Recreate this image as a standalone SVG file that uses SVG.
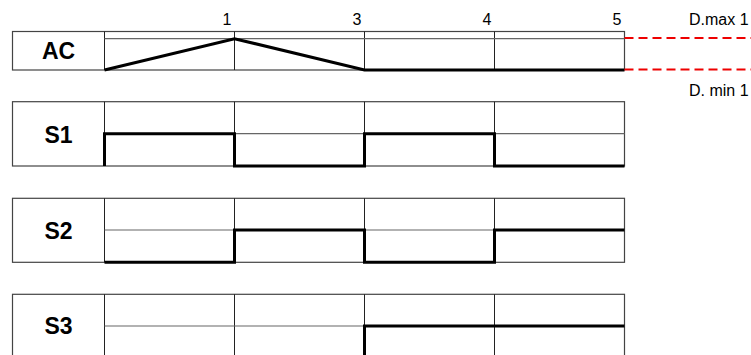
<svg xmlns="http://www.w3.org/2000/svg" width="751" height="355" viewBox="0 0 751 355">
<style>
.box{fill:#fff;stroke:#444;stroke-width:1.2}
.div{stroke:#222;stroke-width:1}
.mid{stroke:#666;stroke-width:1.2}
.wave{fill:none;stroke:#000;stroke-width:3;stroke-linejoin:miter}
.lbl{font-family:"Liberation Sans",Arial,sans-serif;font-weight:bold;font-size:23px;text-anchor:middle;fill:#000}
.num{font-family:"Liberation Sans",Arial,sans-serif;font-size:16px;text-anchor:end;fill:#000}
.side{font-family:"Liberation Sans",Arial,sans-serif;font-size:16px;fill:#000}
.red{stroke:#e00;stroke-width:1.8;stroke-dasharray:9,5;fill:none}
</style>
<rect width="751" height="355" fill="#fff"/>
<g id="axis">
<text class="num" x="231.5" y="24.5">1</text>
<text class="num" x="361.5" y="24.5">3</text>
<text class="num" x="491.5" y="24.5">4</text>
<text class="num" x="621.5" y="24.5">5</text>
<text class="side" x="689" y="24.5">D.max 1</text>
<text class="side" x="689" y="95.5">D. min 1</text>
</g>
<g id="row-AC">
<rect class="box" x="12.5" y="31.5" width="612" height="38.5"/>
<line class="div" x1="104.5" y1="31.5" x2="104.5" y2="70"/>
<line class="div" x1="234.5" y1="31.5" x2="234.5" y2="70"/>
<line class="div" x1="364.5" y1="31.5" x2="364.5" y2="70"/>
<line class="div" x1="494.5" y1="31.5" x2="494.5" y2="70"/>
<line class="mid" x1="104.5" y1="38.7" x2="624.5" y2="38.7"/>
<text class="lbl" x="58.5" y="59">AC</text>
</g>
<g id="row-S1">
<rect class="box" x="12.5" y="101.7" width="612" height="64.3"/>
<line class="div" x1="104.5" y1="101.7" x2="104.5" y2="166"/>
<line class="div" x1="234.5" y1="101.7" x2="234.5" y2="166"/>
<line class="div" x1="364.5" y1="101.7" x2="364.5" y2="166"/>
<line class="div" x1="494.5" y1="101.7" x2="494.5" y2="166"/>
<line class="mid" x1="104.5" y1="133.7" x2="624.5" y2="133.7"/>
<text class="lbl" x="58.5" y="142.5">S1</text>
</g>
<g id="row-S2">
<rect class="box" x="12.5" y="198.3" width="612" height="64"/>
<line class="div" x1="104.5" y1="198.3" x2="104.5" y2="262.3"/>
<line class="div" x1="234.5" y1="198.3" x2="234.5" y2="262.3"/>
<line class="div" x1="364.5" y1="198.3" x2="364.5" y2="262.3"/>
<line class="div" x1="494.5" y1="198.3" x2="494.5" y2="262.3"/>
<line class="mid" x1="104.5" y1="230" x2="624.5" y2="230"/>
<text class="lbl" x="58.5" y="239">S2</text>
</g>
<g id="row-S3">
<rect class="box" x="12.5" y="294.3" width="612" height="64"/>
<line class="div" x1="104.5" y1="294.3" x2="104.5" y2="358.3"/>
<line class="div" x1="234.5" y1="294.3" x2="234.5" y2="358.3"/>
<line class="div" x1="364.5" y1="294.3" x2="364.5" y2="358.3"/>
<line class="div" x1="494.5" y1="294.3" x2="494.5" y2="358.3"/>
<line class="mid" x1="104.5" y1="326" x2="624.5" y2="326"/>
<text class="lbl" x="58.5" y="334">S3</text>
</g>
<g id="connectors">
<path class="wave" d="M104.5,70 L234.5,38.7 L364.5,70 L624.5,70"/>
<path class="red" d="M624.5,38 H751"/>
<path class="red" d="M624.5,69.5 H751"/>
<path class="wave" d="M104.5,166 V133.7 H234.5 V166 H364.5 V133.7 H494.5 V166 H624.5"/>
<path class="wave" d="M104.5,262.3 H234.5 V230 H364.5 V262.3 H494.5 V230 H624.5"/>
<path class="wave" d="M104.5,358.3 H364.5 V326 H624.5"/>
</g>
</svg>
